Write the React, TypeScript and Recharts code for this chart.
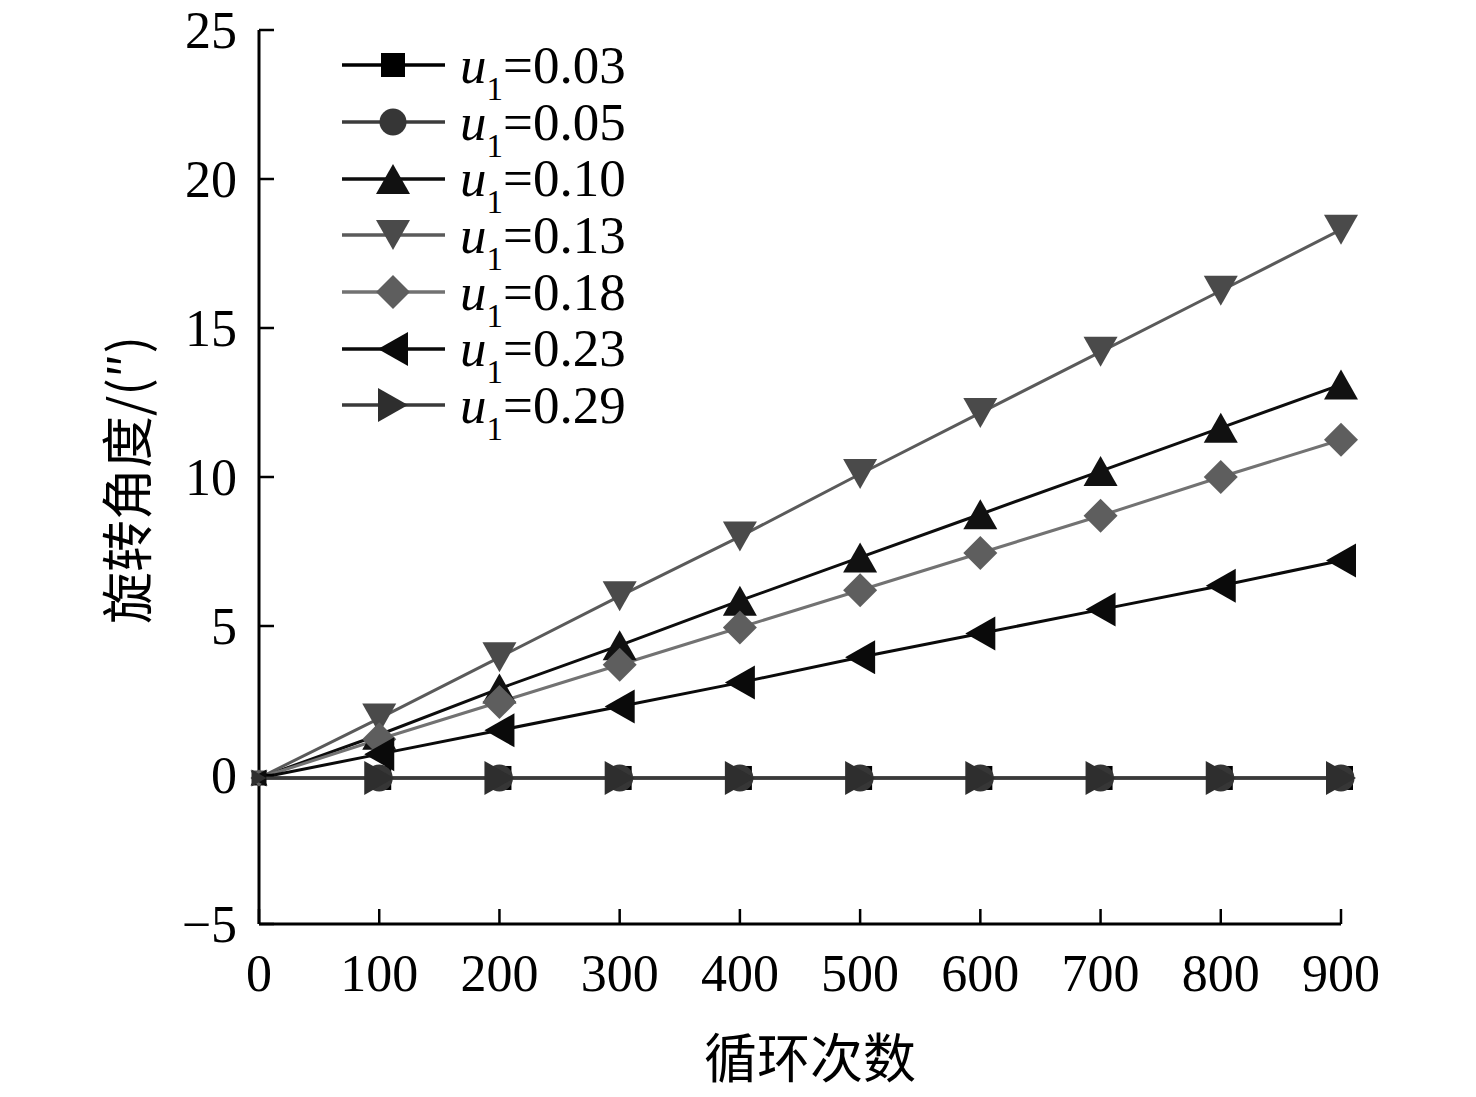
import React from 'react';
import { LineChart, Line, XAxis, YAxis, Legend } from 'recharts';

const cycles = [0, 100, 200, 300, 400, 500, 600, 700, 800, 900];

const u003 = [-0.1, -0.1, -0.1, -0.1, -0.1, -0.1, -0.1, -0.1, -0.1, -0.1];
const u005 = [-0.1, -0.1, -0.1, -0.1, -0.1, -0.1, -0.1, -0.1, -0.1, -0.1];
const u010 = [-0.1, 1.35, 2.9, 4.35, 5.85, 7.3, 8.75, 10.2, 11.65, 13.1];
const u013 = [-0.1, 1.9, 3.95, 6.0, 8.0, 10.1, 12.15, 14.2, 16.25, 18.3];
const u018 = [-0.1, 1.2, 2.45, 3.7, 4.95, 6.2, 7.45, 8.7, 10.0, 11.25];
const u023 = [-0.1, 0.7, 1.5, 2.3, 3.1, 3.95, 4.75, 5.55, 6.35, 7.2];
const u029 = [-0.1, -0.1, -0.1, -0.1, -0.1, -0.1, -0.1, -0.1, -0.1, -0.1];

const seriesKeys = ['u003', 'u005', 'u010', 'u013', 'u018', 'u023', 'u029'];
const seriesValues = [u003, u005, u010, u013, u018, u023, u029];
const legendValues = ['0.03', '0.05', '0.10', '0.13', '0.18', '0.23', '0.29'];
const lineColors = ['#000000', '#3c3c3c', '#0d0d0d', '#5a5a5a', '#727272', '#0a0a0a', '#3a3a3a'];
const markerColors = ['#000000', '#363636', '#111111', '#4a4a4a', '#5e5e5e', '#0a0a0a', '#2e2e2e'];
const shapes = ['square', 'circle', 'up', 'down', 'diamond', 'left', 'right'];

const xTicks = [0, 100, 200, 300, 400, 500, 600, 700, 800, 900];
const yTicks = [-5, 0, 5, 10, 15, 20, 25];
const yTickLabels = ['\u22125', '0', '5', '10', '15', '20', '25'];

const xTitle = '循环次数';
const yTitle = '旋转角度/(″)';

const data = cycles.map((c, i) => {
  const row: Record<string, number> = { cycle: c };
  seriesKeys.forEach((k, j) => {
    row[k] = seriesValues[j][i];
  });
  return row;
});

const FONT = "'Liberation Serif', 'Noto Sans CJK SC', serif";

function Marker({ shape, cx, cy, fill, s = 1 }: { shape: string; cx: number; cy: number; fill: string; s?: number }) {
  if (cx == null || cy == null || isNaN(cx) || isNaN(cy)) return null;
  switch (shape) {
    case 'square': {
      const h = 12 * s;
      return <rect x={cx - h} y={cy - h} width={2 * h} height={2 * h} fill={fill} />;
    }
    case 'circle':
      return <circle cx={cx} cy={cy} r={13.5 * s} fill={fill} />;
    case 'up': {
      const w = 17 * s, h = 15 * s;
      return <polygon points={`${cx},${cy - h} ${cx + w},${cy + h} ${cx - w},${cy + h}`} fill={fill} />;
    }
    case 'down': {
      const w = 17 * s, h = 15 * s;
      return <polygon points={`${cx - w},${cy - h} ${cx + w},${cy - h} ${cx},${cy + h}`} fill={fill} />;
    }
    case 'diamond': {
      const d = 17 * s;
      return <polygon points={`${cx},${cy - d} ${cx + d},${cy} ${cx},${cy + d} ${cx - d},${cy}`} fill={fill} />;
    }
    case 'left': {
      const w = 15 * s, h = 17 * s;
      return <polygon points={`${cx - w},${cy} ${cx + w},${cy - h} ${cx + w},${cy + h}`} fill={fill} />;
    }
    case 'right': {
      const w = 15 * s, h = 17 * s;
      return <polygon points={`${cx + w},${cy} ${cx - w},${cy - h} ${cx - w},${cy + h}`} fill={fill} />;
    }
    default:
      return null;
  }
}

const renderLegend = (props: any) => {
  const payload = props.payload || [];
  return (
    <div style={{ fontFamily: FONT, fontSize: 53, color: '#000' }}>
      {payload.map((entry: any) => {
        const idx = seriesKeys.indexOf(entry.dataKey);
        if (idx < 0) return null;
        return (
          <div key={entry.dataKey} style={{ display: 'flex', alignItems: 'center', height: 56.7 }}>
            <svg width={103} height={50} style={{ display: 'block', overflow: 'visible' }}>
              <line x1={0} x2={103} y1={25} y2={25} stroke={lineColors[idx]} strokeWidth={3.5} />
              <Marker shape={shapes[idx]} cx={51} cy={25} fill={markerColors[idx]} />
            </svg>
            <span style={{ marginLeft: 15, lineHeight: 1, whiteSpace: 'nowrap', color: '#000' }}>
              <i>u</i>
              <span style={{ fontSize: 33, position: 'relative', top: 17, lineHeight: 0, color: '#000' }}>1</span>
              ={legendValues[idx]}
            </span>
          </div>
        );
      })}
    </div>
  );
};

export default function App() {
  return (
    <div style={{ marginTop: -8, marginLeft: -8, width: 1476, height: 1097 }}>
      <LineChart
        width={1476}
        height={1097}
        data={data}
        margin={{ top: 30, right: 135, left: 0, bottom: 0 }}
        style={{ fontFamily: FONT }}
      >
        <XAxis
          dataKey="cycle"
          type="number"
          domain={[0, 900]}
          ticks={xTicks}
          interval={0}
          height={173}
          axisLine={{ stroke: '#000', strokeWidth: 3 }}
          tickLine={{ stroke: '#000', strokeWidth: 2.5 }}
          tickSize={-15}
          tickMargin={45}
          tick={{ fill: '#000', fontSize: 52, fontFamily: FONT }}
          label={{
            content: (p: any) => {
              const vb = p.viewBox || { x: 259, width: 1082 };
              return (
                <text
                  x={vb.x + vb.width / 2 + 10}
                  y={1055}
                  textAnchor="middle"
                  dominantBaseline="central"
                  fontSize={53}
                  fill="#000"
                  fontFamily="'Noto Sans CJK SC', sans-serif"
                >
                  {xTitle}
                </text>
              );
            },
          }}
        />
        <YAxis
          type="number"
          domain={[-5, 25]}
          ticks={yTicks}
          interval={0}
          width={259}
          axisLine={{ stroke: '#000', strokeWidth: 3 }}
          tickLine={{ stroke: '#000', strokeWidth: 2.5 }}
          tickSize={-15}
          tickMargin={37}
          tick={{ fill: '#000', fontSize: 52, fontFamily: FONT }}
          tickFormatter={(v: number) => yTickLabels[yTicks.indexOf(v)] ?? String(v)}
          label={{
            content: (p: any) => {
              const vb = p.viewBox || { y: 30, height: 894 };
              const cy = vb.y + vb.height / 2 + 3;
              return (
                <text
                  x={124}
                  y={cy}
                  transform={`rotate(-90 124 ${cy})`}
                  textAnchor="middle"
                  dominantBaseline="central"
                  fontSize={52}
                  fill="#000"
                  fontFamily="'Noto Sans CJK SC', sans-serif"
                >
                  {yTitle}
                </text>
              );
            },
          }}
        />
        <Legend
          content={renderLegend}
          layout="horizontal"
          verticalAlign="middle"
          align="center"
          wrapperStyle={{ left: 342, top: 37, width: 340, height: 400 }}
        />
        {seriesKeys.map((k, idx) => (
          <Line
            key={k}
            dataKey={k}
            name={`u1=${legendValues[idx]}`}
            stroke={lineColors[idx]}
            strokeWidth={3}
            isAnimationActive={false}
            activeDot={false}
            dot={(p: any) => (
              <Marker
                key={`${k}-${p.index}`}
                shape={shapes[idx]}
                cx={p.cx}
                cy={p.cy}
                fill={markerColors[idx]}
                s={p.index === 0 ? 0.5 : 1}
              />
            )}
          />
        ))}
      </LineChart>
    </div>
  );
}
